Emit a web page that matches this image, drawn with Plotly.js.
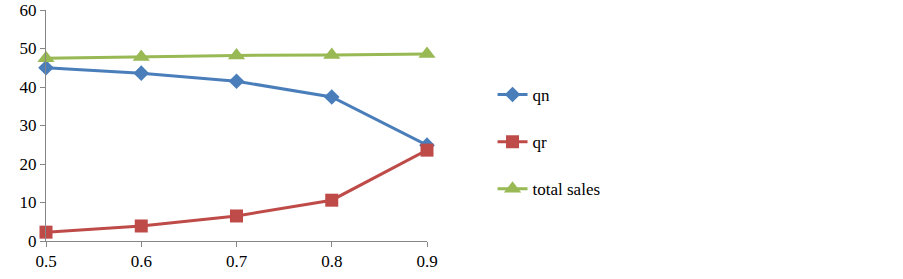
<!DOCTYPE html>
<html><head><meta charset="utf-8">
<script src="https://cdn.plot.ly/plotly-3.0.1.min.js"></script>
<style>body{margin:0;background:#fff}#c{width:903px;height:279px}</style>
</head><body><div id="c"></div>
<script>
const xVals = [0.5, 0.6, 0.7, 0.8, 0.9];
const qn = [45.0, 43.6, 41.5, 37.4, 24.9];
const qr = [2.3, 3.9, 6.5, 10.6, 23.6];
const totalSales = [47.5, 47.8, 48.2, 48.3, 48.6];
const names = ['qn', 'qr', 'total sales'];
const tickY = [0, 10, 20, 30, 40, 50, 60];
const tickX = ['0.5', '0.6', '0.7', '0.8', '0.9'];
const FONT = 'Liberation Serif, Times New Roman, serif';

const traces = [
  {x: xVals, y: qn, name: names[0], legendgroup: 'a', mode: 'lines+markers', cliponaxis: false,
   line: {color: '#4A7EBB', width: 3}, marker: {symbol: 'diamond', size: 12, color: '#4A7EBB'}},
  {x: xVals, y: qr, name: names[1], legendgroup: 'b', mode: 'lines+markers', cliponaxis: false,
   line: {color: '#BE4B48', width: 3}, marker: {symbol: 'square', size: 13, color: '#BE4B48'}},
  {x: xVals, y: totalSales, name: names[2], legendgroup: 'c', mode: 'lines+markers', cliponaxis: false,
   line: {color: '#98B954', width: 3}, marker: {symbol: 'triangle-up', size: 15, color: '#98B954'}}
];
const layout = {
  width: 903, height: 279,
  margin: {l: 46, r: 476, t: 10, b: 38},
  paper_bgcolor: '#fff', plot_bgcolor: '#fff',
  font: {family: FONT, size: 17, color: '#000'},
  showlegend: true,
  legend: {x: 1.172, y: 0.71, xanchor: 'left', yanchor: 'top', traceorder: 'grouped', tracegroupgap: 22,
           font: {family: FONT, size: 17, color: '#000'}, bgcolor: 'rgba(0,0,0,0)'},
  xaxis: {range: [0.5, 0.9], tickvals: xVals, ticktext: tickX, showgrid: false, zeroline: false,
          tickfont: {family: FONT, size: 17, color: '#000'},
          showline: true, linecolor: '#868686', linewidth: 1, ticks: 'outside', ticklen: 5, tickcolor: '#868686'},
  yaxis: {range: [0, 60], tickvals: tickY, showgrid: false, zeroline: false,
          tickfont: {family: FONT, size: 17, color: '#000'},
          showline: true, linecolor: '#868686', linewidth: 1, ticks: 'outside', ticklen: 5, tickcolor: '#868686'}
};
Plotly.newPlot('c', traces, layout, {displayModeBar: false, staticPlot: true});
</script></body></html>
